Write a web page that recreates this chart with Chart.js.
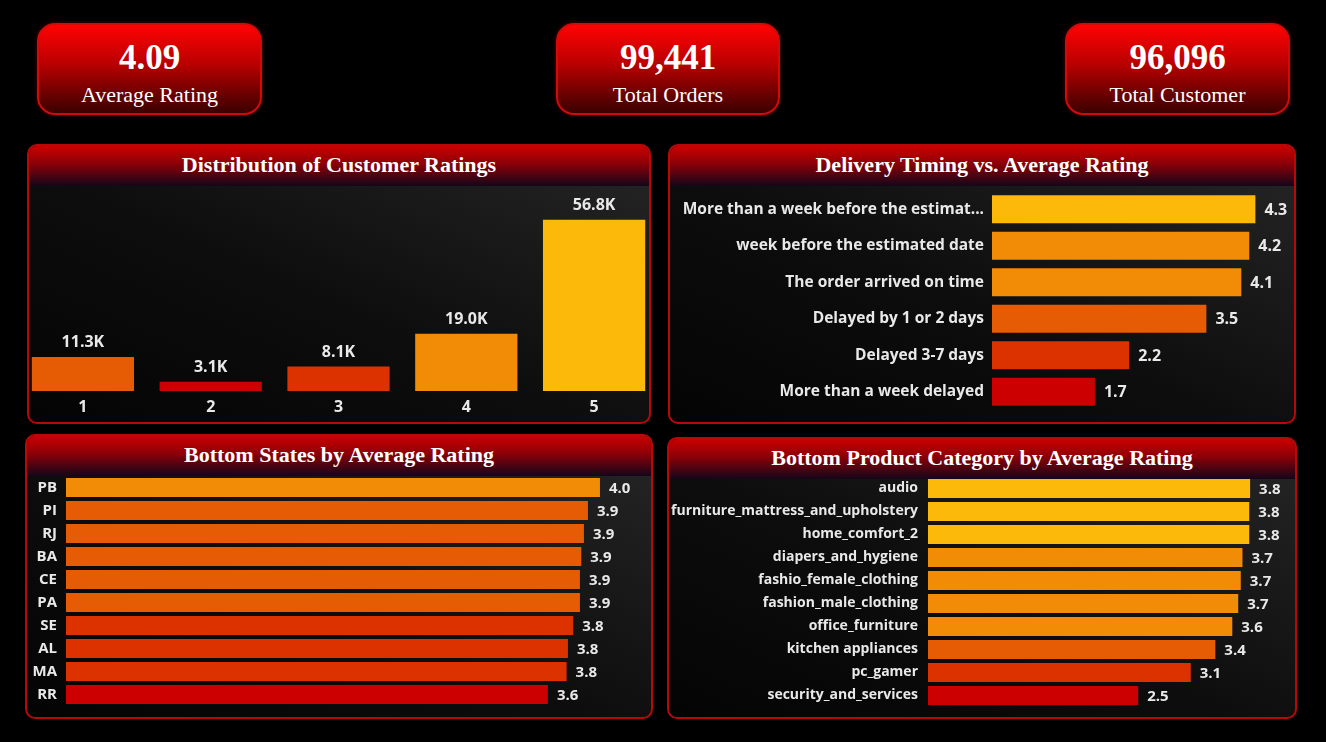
<!DOCTYPE html>
<html>
<head>
<meta charset="utf-8">
<script src="https://cdn.jsdelivr.net/npm/chart.js@4.4.1/dist/chart.umd.min.js"></script>
<style>
  html,body{margin:0;padding:0;background:#000;width:1326px;height:742px;overflow:hidden;}
  .card{position:absolute;box-sizing:border-box;border:2px solid #d40a0a;border-radius:18px;
        background:linear-gradient(to bottom,#ff0303 0%,#b80000 45%,#3a0000 100%);
        color:#fff;font-family:"Liberation Serif","Times New Roman",serif;text-align:center;
        box-shadow:0 0 4px rgba(255,0,0,0.35);}
  .card .v{position:absolute;left:0;right:0;top:13px;font-size:35px;font-weight:bold;line-height:40px;}
  .card .l{position:absolute;left:0;right:0;top:57px;font-size:22px;line-height:26px;}
  .panel{position:absolute;box-sizing:border-box;border:2px solid #b80808;border-radius:10px;overflow:hidden;
         background:linear-gradient(to top right,#040404 0%,#0d0d0d 45%,#262626 100%);}
  .panel .hd{position:absolute;left:0;right:0;top:0;height:40px;
         background:linear-gradient(to bottom,#cc0000 0%,#8a0008 45%,#14061a 100%);
         color:#fff;font-family:"Liberation Serif","Times New Roman",serif;font-weight:bold;font-size:22px;
         text-align:center;line-height:38px;}
  canvas{position:absolute;}
</style>
</head>
<body>
<div class="card" style="left:37px;top:23px;width:225px;height:92px;"><div class="v">4.09</div><div class="l">Average Rating</div></div>
<div class="card" style="left:556px;top:23px;width:224px;height:92px;"><div class="v">99,441</div><div class="l">Total Orders</div></div>
<div class="card" style="left:1065px;top:23px;width:225px;height:92px;"><div class="v">96,096</div><div class="l">Total Customer</div></div>

<div class="panel" style="left:27px;top:144px;width:624px;height:280px;"><div class="hd">Distribution of Customer Ratings</div></div>
<div class="panel" style="left:668px;top:144px;width:628px;height:280px;"><div class="hd">Delivery Timing vs. Average Rating</div></div>
<div class="panel" style="left:25px;top:434px;width:628px;height:285px;"><div class="hd">Bottom States by Average Rating</div></div>
<div class="panel" style="left:667px;top:437px;width:630px;height:282px;"><div class="hd">Bottom Product Category by Average Rating</div></div>

<canvas id="c1" width="639" height="237" style="left:19px;top:185px;"></canvas>
<canvas id="c2" width="625" height="236" style="left:669px;top:186px;"></canvas>
<canvas id="c3" width="625" height="241" style="left:26px;top:476px;"></canvas>
<canvas id="c4" width="627" height="240" style="left:668px;top:477px;"></canvas>

<script>
// ---------- DATA ----------
const ratingCategories = ["1","2","3","4","5"];
const ratingCounts = [11300, 3100, 8100, 19000, 56800];

const deliveryCategories = ["More than a week before the estimat...","week before the estimated date","The order arrived on time","Delayed by 1 or 2 days","Delayed 3-7 days","More than a week delayed"];
const deliveryRatings = [4.30, 4.20, 4.07, 3.50, 2.24, 1.68];

const stateCategories = ["PB","PI","RJ","BA","CE","PA","SE","AL","MA","RR"];
const stateRatings = [4.00, 3.91, 3.88, 3.86, 3.85, 3.85, 3.80, 3.76, 3.75, 3.61];

const productCategories = ["audio","furniture_mattress_and_upholstery","home_comfort_2","diapers_and_hygiene","fashio_female_clothing","fashion_male_clothing","office_furniture","kitchen appliances","pc_gamer","security_and_services"];
const productRatings = [3.80, 3.79, 3.79, 3.71, 3.69, 3.66, 3.59, 3.39, 3.10, 2.48];

// ---------- STYLE ----------
const C_YEL = "#FDB90A", C_ORA = "#F28B06", C_DOR = "#E65C05", C_RDO = "#DC3200", C_RED = "#CC0000";
const LABEL_FONT = '"Open Sans","Noto Sans",sans-serif';
const TXT = "#e9e9e9";

function colorFor(v, stops){
  for (const [t,c] of stops) if (v >= t) return c;
  return stops[stops.length-1][1];
}

Chart.defaults.animation = false;
Chart.defaults.responsive = false;
Chart.defaults.devicePixelRatio = 1;
Chart.defaults.plugins.legend.display = false;
Chart.defaults.plugins.tooltip.enabled = false;

const valueLabels = {
  id: 'valueLabels',
  afterDatasetsDraw(chart, args, opts) {
    const ctx = chart.ctx;
    const meta = chart.getDatasetMeta(0);
    const data = chart.data.datasets[0].data;
    ctx.save();
    ctx.fillStyle = TXT;
    ctx.font = 'bold ' + (opts.size || 15) + 'px ' + LABEL_FONT;
    meta.data.forEach((bar, i) => {
      const txt = opts.fmt(data[i]);
      if (opts.horizontal) {
        ctx.textAlign = 'left'; ctx.textBaseline = 'middle';
        ctx.fillText(txt, bar.x + (opts.gap || 8), bar.y + 1);
      } else {
        ctx.textAlign = 'center'; ctx.textBaseline = 'alphabetic';
        ctx.fillText(txt, bar.x, bar.y - 10);
      }
    });
    ctx.restore();
  }
};

function noPad(s){ s.paddingTop = 0; s.paddingBottom = 0; s.paddingLeft = 0; s.paddingRight = 0; }

// Chart 1: distribution of ratings
new Chart(document.getElementById('c1'), {
  type: 'bar',
  data: { labels: ratingCategories, datasets: [{ data: ratingCounts,
    backgroundColor: ratingCounts.map(v => colorFor(v, [[50000,C_YEL],[15000,C_ORA],[10000,C_DOR],[5000,C_RDO],[0,C_RED]])),
    categoryPercentage: 1, barPercentage: 0.8 }] },
  options: {
    layout: { padding: { top: 7, left: 0, right: 0, bottom: 0 } },
    scales: {
      x: { grid: { display: false, drawTicks: false }, border: { display: false },
           ticks: { color: TXT, padding: 7, font: { family: LABEL_FONT, size: 16, weight: 'bold' } },
           afterFit(s){ s.height = 31; noPad(s); } },
      y: { display: false, min: 0, max: 66000 }
    },
    plugins: { valueLabels: { fmt: v => (v/1000).toFixed(1) + 'K', size: 16 } }
  },
  plugins: [valueLabels]
});

function hbar(id, labels, values, stops, cfg) {
  new Chart(document.getElementById(id), {
    type: 'bar',
    data: { labels, datasets: [{ data: values,
      backgroundColor: values.map(v => colorFor(v, stops)),
      categoryPercentage: 1, barPercentage: cfg.barPct }] },
    options: {
      indexAxis: 'y',
      layout: { padding: cfg.padding },
      scales: {
        x: { display: false, min: 0, max: cfg.max },
        y: { grid: { display: false, drawTicks: false }, border: { display: false },
             ticks: { color: TXT, padding: cfg.tickPad, font: { family: LABEL_FONT, size: cfg.fontSize, weight: 'bold' } },
             afterFit(s){ s.width = cfg.yWidth; noPad(s); } }
      },
      plugins: { valueLabels: { horizontal: true, fmt: v => v.toFixed(1), size: cfg.valSize, gap: cfg.gap } }
    },
    plugins: [valueLabels]
  });
}

hbar('c2', deliveryCategories, deliveryRatings,
  [[4.25,C_YEL],[4.0,C_ORA],[3.0,C_DOR],[2.0,C_RDO],[0,C_RED]],
  { barPct: 0.77, padding: { top: 5, bottom: 12, left: 0, right: 8 }, max: 4.8, tickPad: 8, fontSize: 15.5, yWidth: 323, valSize: 16, gap: 9 });

hbar('c3', stateCategories, stateRatings,
  [[3.95,C_ORA],[3.83,C_DOR],[3.7,C_RDO],[0,C_RED]],
  { barPct: 0.83, padding: { top: 0, bottom: 11, left: 0, right: 11 }, max: 4.3, tickPad: 9, fontSize: 15, yWidth: 40, valSize: 15, gap: 9 });

hbar('c4', productCategories, productRatings,
  [[3.75,C_YEL],[3.5,C_ORA],[3.3,C_DOR],[3.0,C_RDO],[0,C_RED]],
  { barPct: 0.83, padding: { top: 0, bottom: 10, left: 0, right: 11 }, max: 4.2, tickPad: 10, fontSize: 14, yWidth: 260, valSize: 15, gap: 9 });
</script>
</body>
</html>
